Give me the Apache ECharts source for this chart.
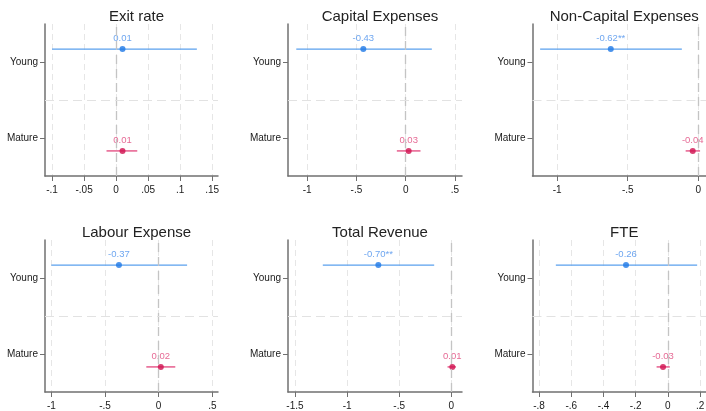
<!DOCTYPE html>
<html>
<head>
<meta charset="utf-8">
<script src="https://cdn.jsdelivr.net/npm/echarts@6/dist/echarts.min.js"></script>
<style>
  html, body { margin: 0; padding: 0; background: #fff; }
  #chart { width: 706px; height: 411px; }
</style>
</head>
<body>
<div id="chart"></div>
<script>
// Panel titles and group names
const titles = ['Exit rate', 'Capital Expenses', 'Non-Capital Expenses', 'Labour Expense', 'Total Revenue', 'FTE'];
const groups = ['Young', 'Mature'];

// Young firms: coefficient, 95% CI bounds, significance stars
const youngCoef  = [0.01, -0.43, -0.62, -0.37, -0.70, -0.26];
const youngLo    = [-0.10, -1.11, -1.12, -1.00, -1.233, -0.696];
const youngHi    = [0.126, 0.265, -0.117, 0.265, -0.164, 0.182];
const youngStars = ['', '', '**', '', '**', ''];

// Mature firms: coefficient, 95% CI bounds, significance stars
const matureCoef  = [0.01, 0.03, -0.04, 0.02, 0.01, -0.03];
const matureLo    = [-0.015, -0.09, -0.09, -0.115, -0.036, -0.07];
const matureHi    = [0.033, 0.15, 0.012, 0.155, 0.045, 0.012];
const matureStars = ['', '', '', '', '', ''];

// X-axis tick values per panel
const xTicks = [
  [-0.1, -0.05, 0, 0.05, 0.1, 0.15],
  [-1, -0.5, 0, 0.5],
  [-1, -0.5, 0],
  [-1, -0.5, 0, 0.5],
  [-1.5, -1, -0.5, 0],
  [-0.8, -0.6, -0.4, -0.2, 0, 0.2]
];
// X-axis display range per panel
const xMin = [-0.111, -1.194, -1.174, -1.059, -1.567, -0.841];
const xMax = [0.159, 0.571, 0.054, 0.553, 0.103, 0.237];

// Layout of the 3x2 panel grid
const gridLeft = [45, 288, 532.5];
const gridWidth = [173, 174, 173.5];
const gridTop = [24, 240];
const gridHeight = 152;

// Category positions on the y scale, with the dodge of each group's marker
const catPos = { Young: 2, Mature: 1 };
const dodge = { Young: 0.17, Mature: -0.17 };

const youngColor = '#5aa0ee', youngDot = '#1e78e6', youngText = '#4a90ec';
const matureColor = '#e2457c', matureDot = '#d0104f', matureText = '#e0457a';

const font = 'Liberation Sans, Arial, sans-serif';

// Stata-style tick labels: drop the leading zero
function fmtTick(v) {
  const s = String(+v.toFixed(3));
  return s.replace(/^(-?)0\./, '$1.');
}

const grids = [], xAxes = [], yAxes = [], series = [], titleOpts = [];

for (let i = 0; i < 6; i++) {
  const col = i % 3, row = Math.floor(i / 3);
  grids.push({
    left: gridLeft[col], top: gridTop[row], width: gridWidth[col], height: gridHeight,
    containLabel: false, outerBoundsMode: 'none'
  });
  titleOpts.push({
    text: titles[i],
    left: gridLeft[col] + gridWidth[col] / 2,
    top: gridTop[row] - 20,
    textAlign: 'center',
    textStyle: { fontFamily: font, fontSize: 15, fontWeight: 'normal', color: '#222' }
  });
  xAxes.push({
    type: 'value', gridIndex: i, min: xMin[i], max: xMax[i],
    axisLine: { show: true, onZero: false, lineStyle: { color: '#707070', width: 1.5 } },
    axisTick: { show: true, length: 5, customValues: xTicks[i], lineStyle: { color: '#707070', width: 1 } },
    axisLabel: {
      customValues: xTicks[i], formatter: fmtTick, margin: 9,
      color: '#1a1a1a', fontSize: 10, fontFamily: font
    },
    splitLine: { show: true, lineStyle: { color: '#e6e6e6', width: 1, type: [6, 4] } }
  });
  yAxes.push({
    type: 'value', gridIndex: i, min: 0.5, max: 2.5,
    axisLine: { show: true, onZero: false, lineStyle: { color: '#707070', width: 1.5 } },
    axisTick: { show: true, length: 5, customValues: [catPos.Mature, catPos.Young], lineStyle: { color: '#707070', width: 1 } },
    axisLabel: {
      customValues: [catPos.Mature, catPos.Young],
      formatter: v => groups.find(g => catPos[g] === v) || '',
      margin: 7, color: '#1a1a1a', fontSize: 10, fontFamily: font
    },
    splitLine: { show: false }
  });

  const rows = [
    { g: 'Young', coef: youngCoef[i], lo: youngLo[i], hi: youngHi[i], stars: youngStars[i], line: youngColor, dot: youngDot, text: youngText },
    { g: 'Mature', coef: matureCoef[i], lo: matureLo[i], hi: matureHi[i], stars: matureStars[i], line: matureColor, dot: matureDot, text: matureText }
  ];

  // Reference lines: dashed zero line and divider between the two groups
  series.push({
    type: 'line', xAxisIndex: i, yAxisIndex: i, data: [], silent: true,
    markLine: {
      silent: true, symbol: 'none', label: { show: false }, animation: false,
      data: [
        { xAxis: 0, lineStyle: { color: '#c4c4c4', width: 1.3, type: [9, 5] } },
        { yAxis: (catPos.Young + catPos.Mature) / 2, lineStyle: { color: '#e2e2e2', width: 1, type: [9, 5] } }
      ]
    }
  });

  rows.forEach(r => {
    const y = catPos[r.g] + dodge[r.g];
    // Confidence interval
    series.push({
      type: 'custom', xAxisIndex: i, yAxisIndex: i, silent: true,
      data: [[r.lo, r.hi, y]],
      encode: { x: [0, 1], y: 2 },
      renderItem: (params, api) => {
        const a = api.coord([api.value(0), api.value(2)]);
        const b = api.coord([api.value(1), api.value(2)]);
        return { type: 'line', shape: { x1: a[0], y1: a[1], x2: b[0], y2: b[1] },
                 style: { stroke: r.line, lineWidth: 1.3 } };
      },
      z: 3
    });
    // Point estimate with value label
    series.push({
      type: 'scatter', xAxisIndex: i, yAxisIndex: i, silent: true,
      data: [[r.coef, y]], symbolSize: 6,
      itemStyle: { color: r.dot },
      label: {
        show: true, position: 'top', distance: 3,
        formatter: () => r.coef.toFixed(2) + r.stars,
        color: r.text, fontSize: 9.5, fontFamily: font
      },
      z: 4
    });
  });
}

const chart = echarts.init(document.getElementById('chart'), null, { renderer: 'canvas' });
chart.setOption({
  animation: false,
  backgroundColor: '#fff',
  title: titleOpts,
  grid: grids,
  xAxis: xAxes,
  yAxis: yAxes,
  series: series
});
</script>
</body>
</html>
